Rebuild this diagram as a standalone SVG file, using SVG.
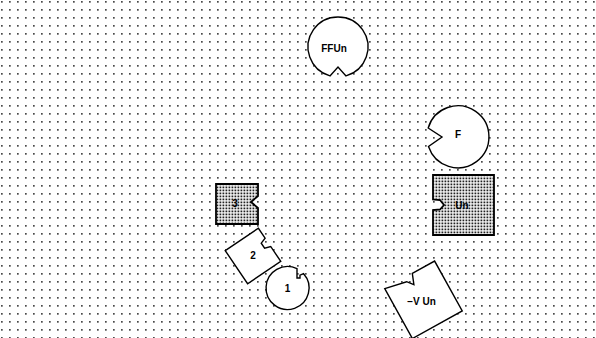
<svg xmlns="http://www.w3.org/2000/svg" width="596" height="338" viewBox="0 0 596 338">
<defs>
<pattern id="grid" patternUnits="userSpaceOnUse" x="9" y="9" width="8" height="8">
<rect x="0" y="0" width="1.7" height="1.7" fill="#4a4a4a"/>
</pattern>
<pattern id="stip" patternUnits="userSpaceOnUse" x="0" y="0" width="3" height="3">
<rect width="3" height="3" fill="#fff"/>
<rect x="0.5" y="0.5" width="1.8" height="1.8" fill="#222"/>
</pattern>
</defs>
<style>
.sh{fill:#fff;stroke:#000;stroke-width:1.4;stroke-linejoin:miter}
.st{fill:url(#stip);stroke:#000;stroke-width:1.8}
.lb{font-family:"Liberation Sans",Arial,sans-serif;font-weight:bold;font-size:10px;fill:#000;text-anchor:middle;dominant-baseline:central}
</style>
<rect width="596" height="338" fill="#fff"/>
<rect width="596" height="338" fill="url(#grid)"/>

<g id="node-ffun">
<path class="sh" d="M330,75.9 A30,30 0 1 1 346,75.9 L338,67 Z"/>
<text class="lb" x="334" y="48.5">FFUn</text>
</g>

<g id="node-f">
<path class="sh" d="M428.5,146.5 A31,31 0 1 0 428.2,128 L442,137 Z"/>
<text class="lb" x="458" y="134.5">F</text>
</g>

<g id="node-3">
<path class="st" d="M216,184 H258 V196 L251,202 L258,208 V224 H216 Z"/>
<text class="lb" x="235" y="203">3</text>
</g>

<g id="node-un">
<path class="st" d="M433,175 H494 V235 H433 V210 L440,209.5 L444,205 L440,200 L433,199.5 Z"/>
<text class="lb" x="462" y="205">Un</text>
</g>

<g id="node-2">
<path class="sh" transform="translate(253 256) rotate(-34)" d="M-20,-20 H20 V-8 L14,-6 V0 L20,2 V20 H-20 Z"/>
<text class="lb" x="253" y="255">2</text>
</g>

<g id="node-1">
<path class="sh" d="M297,268.7 L297,278 L300,278 L300,275.2 L303.6,273.7 A21.5,21.5 0 1 1 297,268.7 Z"/>
<text class="lb" x="287.5" y="288.5">1</text>
</g>

<g id="node-vun">
<path class="sh" transform="translate(423.5 299.8) rotate(-29)" d="M-28.5,-28.5 L-6,-24 L-1,-18 L3,-28.5 L28.5,-28.5 V28.5 H-28.5 Z"/>
<text class="lb" x="421.5" y="301">−V Un</text>
</g>
</svg>
